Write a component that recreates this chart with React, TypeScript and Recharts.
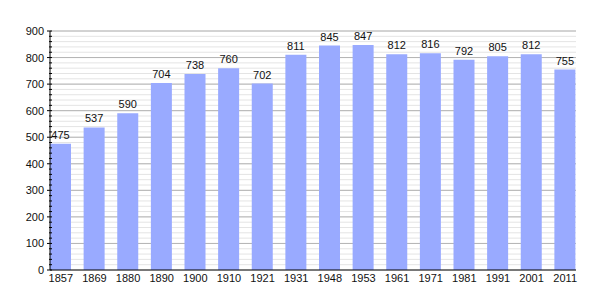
import { BarChart, Bar, XAxis, YAxis, CartesianGrid, ReferenceLine, LabelList } from "recharts"

const years = ["1857", "1869", "1880", "1890", "1900", "1910", "1921", "1931", "1948", "1953", "1961", "1971", "1981", "1991", "2001", "2011"]
const population = [475, 537, 590, 704, 738, 760, 702, 811, 845, 847, 812, 816, 792, 805, 812, 755]
const majorTicks = [0, 100, 200, 300, 400, 500, 600, 700, 800, 900]
const minorTicks = Array.from({ length: 46 }, (_, i) => i * 20)

const data = years.map((year, i) => ({ year, value: population[i] }))

const font = "'Liberation Sans', Arial, sans-serif"

const YTick = (props: any) => {
  const { x, y, payload } = props
  const major = payload.value % 100 === 0
  return (
    <g>
      <line x1={x + 10 - (major ? 5 : 3)} x2={x + 10} y1={y} y2={y} stroke="#000" strokeWidth={1} />
      {major && (
        <text x={x + 2} y={y} dy={4} textAnchor="end" fontSize={11} fontFamily={font} fill="#111">
          {payload.value}
        </text>
      )}
    </g>
  )
}

export default function App() {
  return (
    <div style={{ position: "absolute", left: 0, top: 0, background: "#fff" }}>
      <BarChart width={605} height={300} data={data} margin={{ top: 31, right: 29, left: 0, bottom: 0 }}>
        <CartesianGrid vertical={false} stroke="#e4e4e4" />
        {majorTicks.slice(1).map((v) => (
          <ReferenceLine key={v} y={v} stroke="#b4b4b4" zIndex={-50} />
        ))}
        <XAxis
          dataKey="year"
          height={30}
          padding={{ left: -6, right: -6 }}
          tickLine={false}
          tickSize={0}
          tickMargin={4}
          axisLine={{ stroke: "#000" }}
          tick={{ fontSize: 11, fontFamily: font, fill: "#111" }}
          interval={0}
        />
        <YAxis
          width={50}
          domain={[0, 900]}
          ticks={minorTicks}
          interval={0}
          tickLine={false}
          axisLine={{ stroke: "#000" }}
          tick={<YTick />}
        />
        <Bar dataKey="value" fill="#99aaff" barSize={21} isAnimationActive={false}>
          <LabelList dataKey="value" position="top" offset={5} fontSize={11} fontFamily={font} fill="#111" />
        </Bar>
      </BarChart>
    </div>
  )
}
